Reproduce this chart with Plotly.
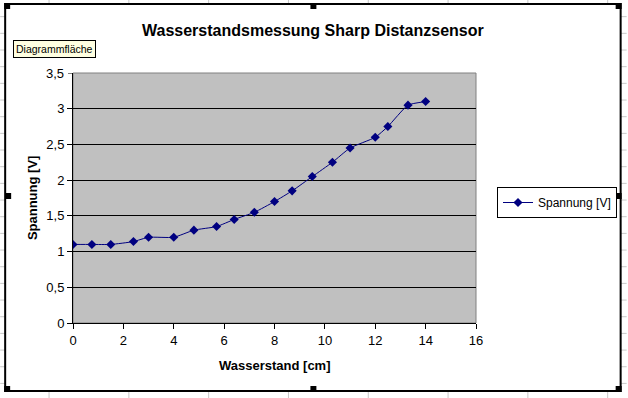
import plotly.graph_objects as go

# ---- data ----
wasserstand_cm = [0, 0.75, 1.5, 2.4, 3, 4, 4.8, 5.7, 6.4, 7.2, 8, 8.7, 9.5, 10.3, 11, 12, 12.5, 13.3, 14]
spannung_v = [1.1, 1.1, 1.1, 1.14, 1.2, 1.2, 1.3, 1.35, 1.45, 1.55, 1.7, 1.85, 2.05, 2.25, 2.45, 2.6, 2.75, 3.05, 3.1]
x_ticks = [0, 2, 4, 6, 8, 10, 12, 14, 16]
x_tick_labels = ["0", "2", "4", "6", "8", "10", "12", "14", "16"]
y_ticks = [0, 0.5, 1, 1.5, 2, 2.5, 3, 3.5]
y_tick_labels = ["0", "0,5", "1", "1,5", "2", "2,5", "3", "3,5"]

W, H = 628, 398
L, R, T, B = 73, 477, 73, 323  # plot area in pixels
FONT = "Liberation Sans, Arial, sans-serif"


def px(x):
    return (x - L) / (R - L)


def py(y):
    return (B - y) / (B - T)


shapes = []
grid_col = "#C8C8C8"
# spreadsheet grid behind the chart
for cx in [49, 129, 209, 289, 369, 449, 529, 609]:
    shapes.append(dict(type="line", xref="paper", yref="paper", x0=px(cx), x1=px(cx), y0=py(0), y1=py(H),
                       line=dict(color=grid_col, width=1), layer="below"))
k = 1
while 16.67 * k < H:
    yy = 16.67 * k
    shapes.append(dict(type="line", xref="paper", yref="paper", x0=px(0), x1=px(W), y0=py(yy), y1=py(yy),
                       line=dict(color=grid_col, width=1), layer="below"))
    k += 1
# chart area
shapes.append(dict(type="rect", xref="paper", yref="paper", x0=px(5), x1=px(622), y0=py(4), y1=py(391),
                   fillcolor="white", line=dict(color="black", width=2), layer="below"))
# plot area background (gray)
shapes.append(dict(type="rect", xref="paper", yref="paper", x0=0, x1=1, y0=0, y1=1,
                   fillcolor="#C0C0C0", line=dict(color="#808080", width=1), layer="below"))
# selection handles
for hx, hy in [(4, 3), (311, 3), (617, 3), (5, 193), (617, 193), (4, 386), (311, 386), (617, 386)]:
    shapes.append(dict(type="rect", xref="paper", yref="paper", x0=px(hx), x1=px(hx + 6), y0=py(hy), y1=py(hy + 6),
                       fillcolor="black", line=dict(width=0), layer="above"))

annotations = [
    dict(text="<b>Wasserstandsmessung Sharp Distanzsensor</b>", xref="paper", yref="paper",
         x=px(314), y=py(30), xanchor="center", yanchor="middle", showarrow=False,
         font=dict(family=FONT, size=16, color="black")),
    dict(text="<b>Wasserstand [cm]</b>", xref="paper", yref="paper",
         x=px(275), y=py(365), xanchor="center", yanchor="middle", showarrow=False,
         font=dict(family=FONT, size=13, color="black")),
    dict(text="<b>Spannung [V]</b>", xref="paper", yref="paper", textangle=-90,
         x=px(32), y=py(198), xanchor="center", yanchor="middle", showarrow=False,
         font=dict(family=FONT, size=13, color="black")),
    dict(text="Diagrammfläche", xref="paper", yref="paper",
         x=px(54), y=py(49), xanchor="center", yanchor="middle", showarrow=False,
         bgcolor="#FFFFE1", bordercolor="black", borderwidth=1, borderpad=2,
         font=dict(family=FONT, size=10.5, color="black")),
]

fig = go.Figure()
fig.add_trace(go.Scatter(
    x=wasserstand_cm, y=spannung_v, name="Spannung [V]", mode="lines+markers",
    line=dict(color="#000080", width=1, shape="spline", smoothing=0.5),
    marker=dict(symbol="diamond", size=7, color="#000080"),
))

fig.update_layout(
    width=W, height=H,
    margin=dict(l=L, r=W - R, t=T, b=H - B, pad=0),
    paper_bgcolor="white", plot_bgcolor="#C0C0C0",
    font=dict(family=FONT, size=13, color="black"),
    showlegend=True,
    legend=dict(x=px(497), y=py(187), xanchor="left", yanchor="top",
                bgcolor="white", bordercolor="black", borderwidth=1,
                font=dict(family=FONT, size=12, color="black"),
                itemwidth=30, tracegroupgap=0),
    shapes=shapes, annotations=annotations,
    xaxis=dict(range=[0, 16], tickvals=x_ticks, ticktext=x_tick_labels, showgrid=False, zeroline=False,
               showline=True, linecolor="black", linewidth=1, ticks="outside", ticklen=5, tickcolor="black",
               tickfont=dict(family=FONT, size=13), fixedrange=True),
    yaxis=dict(range=[0, 3.5], tickvals=y_ticks[:-1], ticktext=y_tick_labels[:-1], showgrid=True, gridcolor="black",
               gridwidth=1, zeroline=False, showline=True, linecolor="black", linewidth=1,
               ticks="outside", ticklen=5, tickcolor="black", tickfont=dict(family=FONT, size=13), fixedrange=True),
)
# top tick label (3,5) without a black gridline over the gray border
fig.add_annotation(text=y_tick_labels[-1], xref="paper", yref="y", x=0, y=y_ticks[-1],
                   xanchor="right", yanchor="middle", xshift=-7, showarrow=False,
                   font=dict(family=FONT, size=13, color="black"))
fig.add_shape(type="line", xref="paper", yref="y", x0=0, x1=-5 / (R - L), y0=y_ticks[-1], y1=y_ticks[-1],
              line=dict(color="black", width=1), layer="above")

fig.write_html("out.html", config={"displayModeBar": False},
               post_script="document.body.style.margin='0';document.body.style.overflow='hidden';")
